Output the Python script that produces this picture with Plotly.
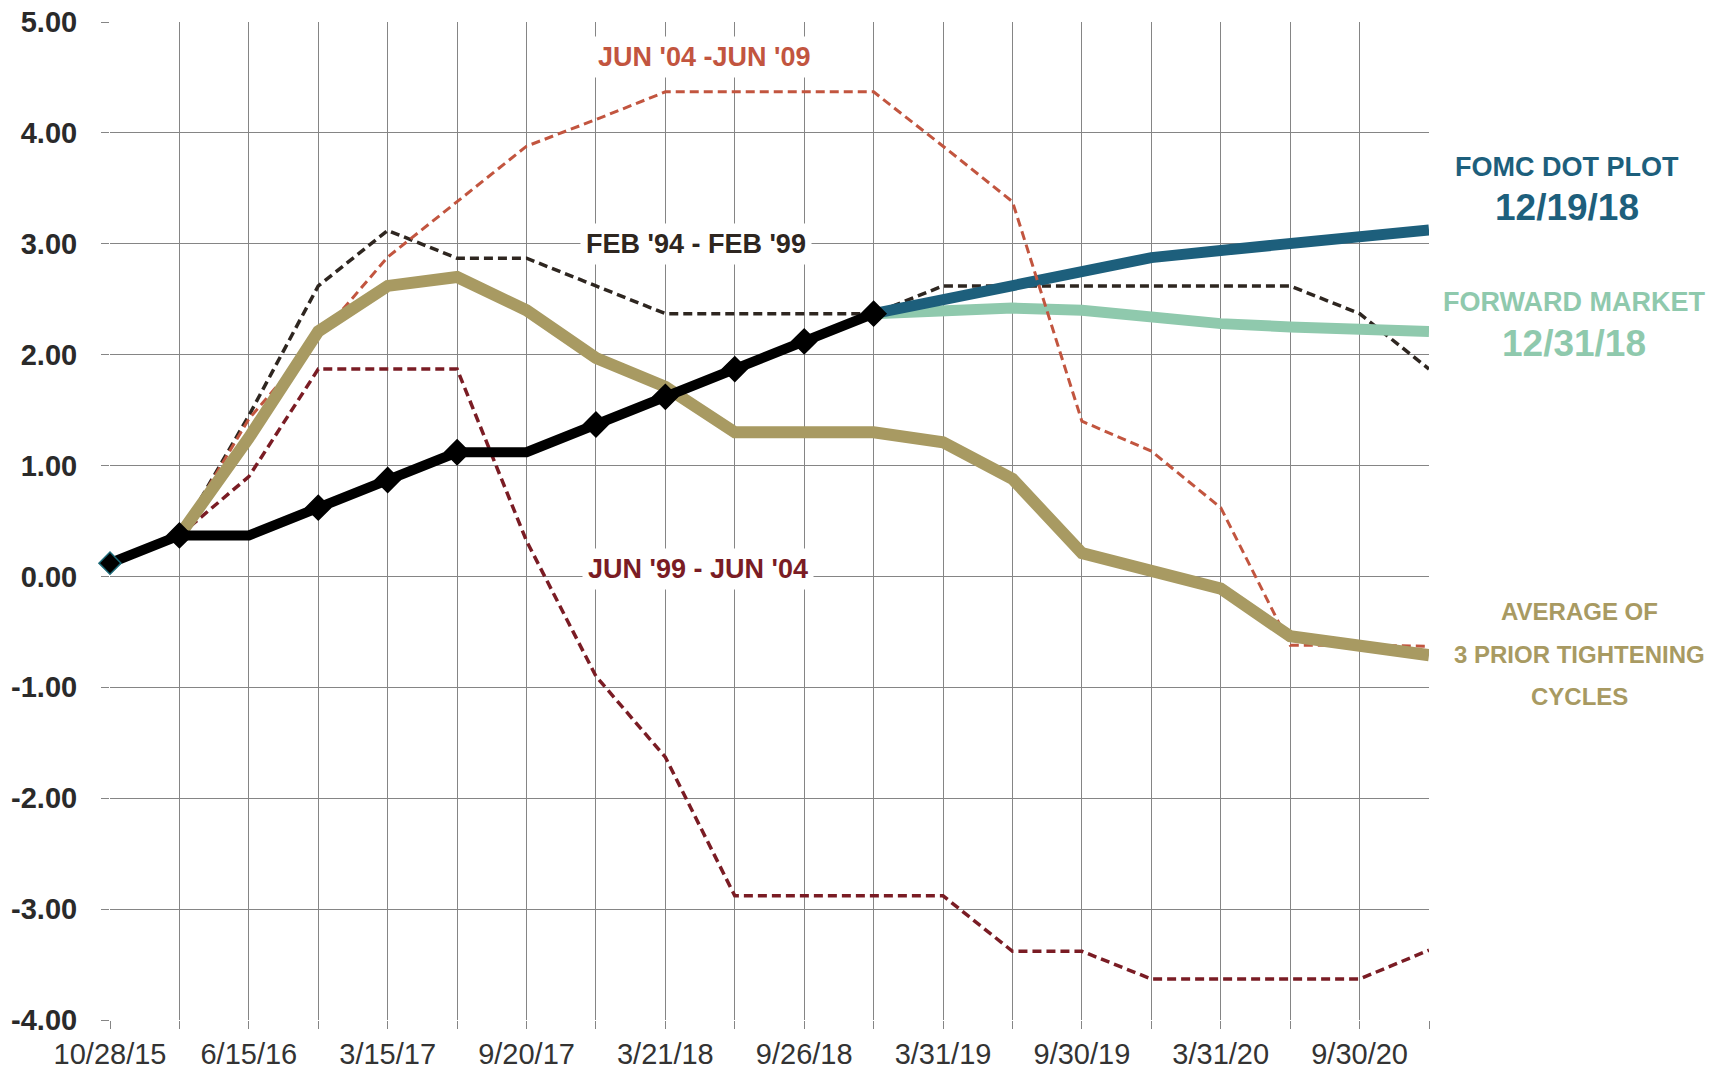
import plotly.graph_objects as go

# Meeting / quarter dates along the horizontal axis
dates = ["10/28/15", "12/16/15", "6/15/16", "12/14/16", "3/15/17", "6/14/17",
         "9/20/17", "12/13/17", "3/21/18", "6/13/18", "9/26/18", "12/19/18",
         "3/31/19", "6/30/19", "9/30/19", "12/31/19", "3/31/20", "6/30/20",
         "9/30/20", "12/31/20"]
tick_labels = ["10/28/15", "", "6/15/16", "", "3/15/17", "", "9/20/17", "",
               "3/21/18", "", "9/26/18", "", "3/31/19", "", "9/30/19", "",
               "3/31/20", "", "9/30/20", ""]
y_ticks = [-4, -3, -2, -1, 0, 1, 2, 3, 4, 5]
y_tick_labels = ["%.2f" % v for v in y_ticks]

# Actual fed funds path (midpoint of target range)
fed_funds = [0.12, 0.37, 0.37, 0.62, 0.87, 1.12, 1.12, 1.37, 1.62, 1.87, 2.12, 2.37]
hike_marker = [17, 19, 0, 19, 19, 19, 0, 19, 19, 19, 19, 19]

# Projections from the last meeting onward
fomc_dot_plot = [None] * 11 + [2.37, 2.50, 2.625, 2.75, 2.875, 2.94, 3.00, 3.06, 3.125]
forward_market = [None] * 11 + [2.37, 2.40, 2.42, 2.40, 2.34, 2.28, 2.25, 2.24, 2.21]

# Prior tightening cycles, rebased to the first hike
feb94_feb99 = [None, 0.37, 1.45, 2.62, 3.12, 2.87, 2.87, 2.62, 2.37, 2.37, 2.37,
               2.37, 2.62, 2.62, 2.62, 2.62, 2.62, 2.62, 2.37, 1.87]
jun04_jun09 = [None, 0.37, 1.42, 2.15, 2.88, 3.38, 3.88, 4.12, 4.37, 4.37, 4.37,
               4.37, 3.88, 3.38, 1.40, 1.13, 0.62, -0.62, -0.62, -0.63]
jun99_jun04 = [None, 0.37, 0.90, 1.87, 1.87, 1.87, 0.32, -0.90, -1.63, -2.88, -2.88,
               -2.88, -2.88, -3.38, -3.38, -3.63, -3.63, -3.63, -3.63, -3.37]
average_3 = [None, 0.37, 1.25, 2.21, 2.62, 2.70, 2.40, 1.97, 1.71, 1.30, 1.30,
             1.30, 1.21, 0.88, 0.21, 0.05, -0.11, -0.54, -0.62, -0.71]

C_FEB94 = "#2e2620"
C_JUN04 = "#c2553f"
C_JUN99 = "#7a1c24"
C_AVG = "#a89a62"
C_FOMC = "#1d5f7c"
C_FWD = "#8fc9ad"
GRID = "#858585"

fig = go.Figure()

fig.add_trace(go.Scatter(x=dates, y=feb94_feb99, mode="lines",
                         line=dict(color=C_FEB94, width=3.5, dash="9px,5px")))
fig.add_trace(go.Scatter(x=dates, y=forward_market, mode="lines",
                         line=dict(color=C_FWD, width=11)))
fig.add_trace(go.Scatter(x=dates, y=fomc_dot_plot, mode="lines",
                         line=dict(color=C_FOMC, width=11)))
fig.add_trace(go.Scatter(x=dates, y=jun04_jun09, mode="lines",
                         line=dict(color=C_JUN04, width=3, dash="9px,5px")))
fig.add_trace(go.Scatter(x=dates, y=jun99_jun04, mode="lines",
                         line=dict(color=C_JUN99, width=3.5, dash="9px,5px")))
fig.add_trace(go.Scatter(x=dates, y=average_3, mode="lines",
                         line=dict(color=C_AVG, width=12)))
fig.add_trace(go.Scatter(x=dates[:len(fed_funds)], y=fed_funds, mode="lines+markers",
                         cliponaxis=False,
                         line=dict(color="#000000", width=10),
                         marker=dict(symbol="diamond", size=hike_marker, color="#000000",
                                     opacity=1,
                                     line=dict(color=["#1d6a78"] + ["#000000"] * 11,
                                               width=1.5))))

label_font = "Liberation Sans, Arial, sans-serif"


def series_label(x, y, text, color, size, xref="x", box=False):
    ann = dict(x=x, y=y, xref=xref, yref="y", text="<b>%s</b>" % text, showarrow=False,
               xanchor="center", yanchor="middle",
               font=dict(color=color, size=size, family=label_font))
    if box:
        ann.update(bgcolor="white", borderpad=5)
    return ann


annotations = [
    series_label(8.55, 4.68, "JUN '04 -JUN '09", C_JUN04, 27, box=True),
    series_label(8.44, 3.0, "FEB '94 - FEB '99", C_FEB94, 27, box=True),
    series_label(8.47, 0.07, "JUN '99 - JUN '04", C_JUN99, 27, box=True),
    series_label(1.1046, 3.69, "FOMC DOT PLOT", C_FOMC, 27, xref="paper"),
    series_label(1.1046, 3.33, "12/19/18", C_FOMC, 37, xref="paper"),
    series_label(1.110, 2.475, "FORWARD MARKET", C_FWD, 27, xref="paper"),
    series_label(1.110, 2.105, "12/31/18", C_FWD, 37, xref="paper"),
    series_label(1.114, -0.32, "AVERAGE OF", C_AVG, 24, xref="paper"),
    series_label(1.114, -0.705, "3 PRIOR TIGHTENING", C_AVG, 24, xref="paper"),
    series_label(1.114, -1.085, "CYCLES", C_AVG, 24, xref="paper"),
]

fig.update_layout(
    width=1723, height=1070,
    margin=dict(l=110, r=294, t=22, b=50, autoexpand=False),
    paper_bgcolor="white", plot_bgcolor="white",
    showlegend=False,
    annotations=annotations,
    xaxis=dict(
        type="category", range=[0, len(dates) - 1], automargin=False,
        tickmode="array", tickvals=dates, ticktext=tick_labels,
        showgrid=True, gridcolor=GRID, gridwidth=1.3,
        ticks="outside", ticklen=8, tickcolor=GRID, tickwidth=1.3,
        ticklabelstandoff=0,
        tickfont=dict(family=label_font, size=29, color="#333333"),
        showline=False, zeroline=False,
    ),
    yaxis=dict(
        range=[-4, 5], automargin=False,
        tickmode="array", tickvals=y_ticks, ticktext=y_tick_labels,
        showgrid=True, gridcolor=GRID, gridwidth=1.3,
        ticks="outside", ticklen=8, tickcolor=GRID, tickwidth=1.3,
        ticklabelstandoff=18,
        tickfont=dict(family=label_font, size=29, color="#2a2a2a", weight="bold"),
        showline=False, zeroline=False,
    ),
)

fig.write_html("out.html")
